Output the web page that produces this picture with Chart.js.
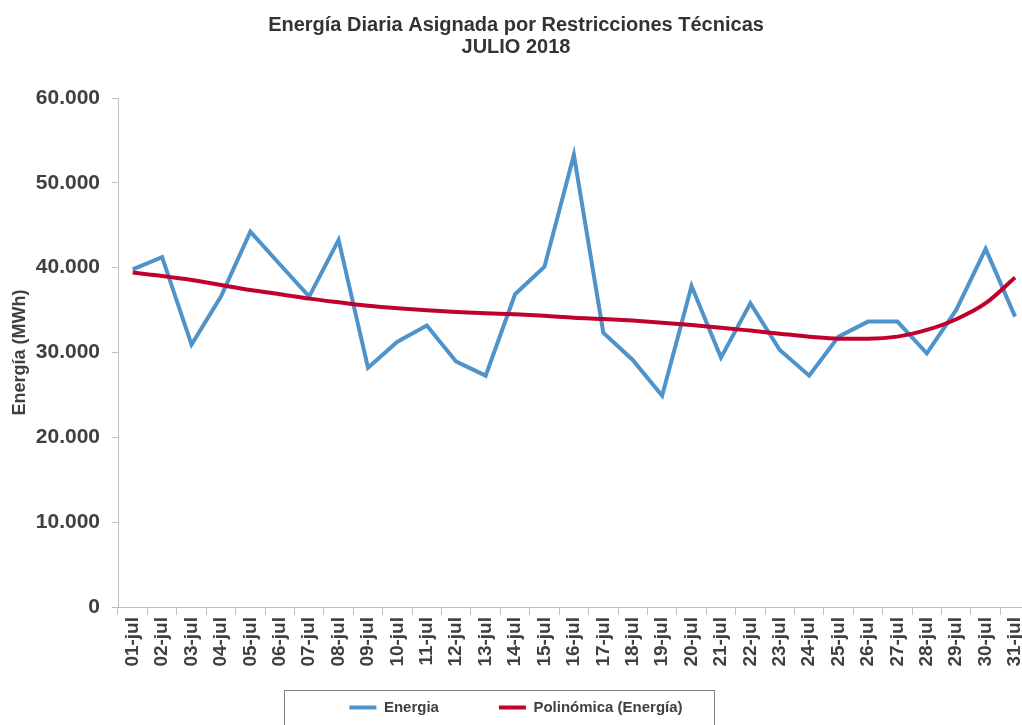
<!DOCTYPE html>
<html>
<head>
<meta charset="utf-8">
<script src="https://cdn.jsdelivr.net/npm/chart.js@4"></script>
<style>
    html, body { margin: 0; padding: 0; background: #fff; overflow: hidden; }
    #wrap { width: 1040px; height: 725px; }
</style>
</head>
<body>
<div id="wrap"><canvas id="energyChart"></canvas></div>
<script>
const days = ['01-jul', '02-jul', '03-jul', '04-jul', '05-jul', '06-jul', '07-jul', '08-jul',
    '09-jul', '10-jul', '11-jul', '12-jul', '13-jul', '14-jul', '15-jul', '16-jul',
    '17-jul', '18-jul', '19-jul', '20-jul', '21-jul', '22-jul', '23-jul', '24-jul',
    '25-jul', '26-jul', '27-jul', '28-jul', '29-jul', '30-jul', '31-jul'];

// MWh por dia
const energia = [39800, 41230, 30930, 36590, 44250, 40400, 36590, 43270,
    28210, 31280, 33170, 28920, 27270, 36870, 40120, 53290,
    32340, 29120, 24910, 37850, 29400, 35810, 30300, 27270,
    31870, 33640, 33640, 29910, 35020, 42210, 34230];

// linea de tendencia
const polinomica = [39420, 39020, 38550, 37960, 37370, 36870, 36350, 35920,
    35520, 35220, 34980, 34780, 34630, 34510, 34340, 34110,
    33950, 33760, 33520, 33250, 32930, 32580, 32220, 31870,
    31630, 31630, 31870, 32660, 33920, 35810, 38830];

const yTicks = [0, 10000, 20000, 30000, 40000, 50000, 60000];

const fontFamily = '"Liberation Sans", Arial, sans-serif';
const textColor = '#404040';
const axisColor = '#bfbfbf';

function fmtMiles(v) {
    return String(v).replace(/\B(?=(\d{3})+(?!\d))/g, '.');
}

// borde alrededor de la leyenda
const legendBox = {
    id: 'legendBox',
    afterDraw(chart) {
        const hb = chart.legend.legendHitBoxes;
        if (!hb || !hb.length) return;
        const first = hb[0];
        const last = hb[hb.length - 1];
        const ctx = chart.ctx;
        ctx.save();
        ctx.strokeStyle = '#7f7f7f';
        ctx.lineWidth = 1;
        const x = Math.round(first.left - 65) + 0.5;
        const y = Math.round(first.top - 10) + 0.5;
        const w = Math.round(last.left + last.width - first.left + 97);
        ctx.strokeRect(x, y, w, 60);
        ctx.restore();
    }
};

const ctx = document.getElementById('energyChart').getContext('2d');
const chart = new Chart(ctx, {
    type: 'line',
    data: {
        labels: days,
        datasets: [{
            label: 'Energia' + ' '.repeat(12),
            data: energia,
            borderColor: '#4f93cb',
            backgroundColor: '#4f93cb',
            borderWidth: 4,
            pointRadius: 0,
            tension: 0,
            order: 2
        }, {
            label: 'Polinómica (Energía)',
            data: polinomica,
            borderColor: '#c0002d',
            backgroundColor: '#c0002d',
            borderWidth: 4,
            pointRadius: 0,
            tension: 0.4,
            cubicInterpolationMode: 'monotone',
            order: 1
        }]
    },
    options: {
        responsive: true,
        maintainAspectRatio: false,
        animation: false,
        layout: { padding: { left: 0, right: 8, top: 0, bottom: 0 } },
        plugins: {
            tooltip: { enabled: false },
            title: {
                display: true,
                text: ['Energía Diaria Asignada por Restricciones Técnicas', 'JULIO 2018'],
                color: '#333333',
                font: { family: fontFamily, size: 20, weight: 'bold', lineHeight: 1.1 },
                padding: { top: 14, bottom: 40 }
            },
            legend: {
                position: 'bottom',
                labels: {
                    color: textColor,
                    font: { family: fontFamily, size: 15, weight: 'bold' },
                    boxWidth: 27,
                    boxHeight: 4,
                    padding: 10,
                    sort: (a, b) => a.datasetIndex - b.datasetIndex,
                    generateLabels(chart) {
                        const items = Chart.defaults.plugins.legend.labels.generateLabels(chart);
                        items.forEach(it => { it.lineWidth = 0; });
                        return items;
                    }
                }
            }
        },
        scales: {
            x: {
                offset: true,
                grid: {
                    offset: true,
                    drawOnChartArea: false,
                    drawTicks: true,
                    tickLength: 8,
                    color: axisColor
                },
                border: { display: true, color: axisColor, width: 1 },
                ticks: {
                    color: textColor,
                    font: { family: fontFamily, size: 19, weight: 'bold' },
                    minRotation: 90,
                    maxRotation: 90,
                    autoSkip: false,
                    padding: 2
                },
                afterFit(scale) { scale.height = 83; }
            },
            y: {
                min: 0,
                max: 60000,
                afterBuildTicks(scale) {
                    scale.ticks = yTicks.map(v => ({ value: v }));
                },
                grid: {
                    drawOnChartArea: false,
                    drawTicks: true,
                    tickLength: 6,
                    color: axisColor
                },
                border: { display: true, color: axisColor, width: 1 },
                ticks: {
                    color: textColor,
                    font: { family: fontFamily, size: 21, weight: 'bold' },
                    padding: 12,
                    callback: v => fmtMiles(v)
                },
                title: {
                    display: true,
                    text: 'Energía (MWh)',
                    color: textColor,
                    font: { family: fontFamily, size: 18, weight: 'bold' },
                    padding: { top: 9, bottom: 0 }
                },
                afterFit(scale) { scale.width = 118; }
            }
        }
    },
    plugins: [legendBox]
});
</script>
</body>
</html>
